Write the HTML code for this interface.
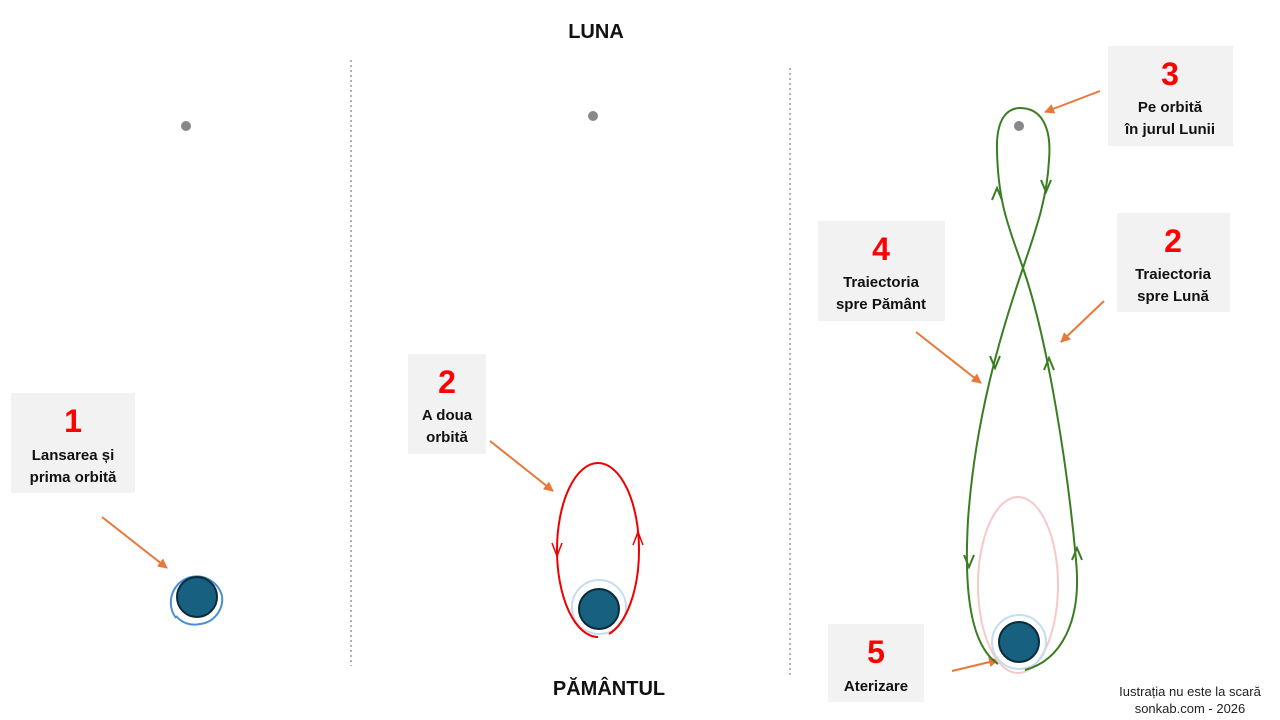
<!DOCTYPE html>
<html><head><meta charset="utf-8"><style>
html,body{margin:0;padding:0;background:#fff;}
svg{display:block;font-family:"Liberation Sans",sans-serif;}
.n{fill:#f00;font-weight:bold;font-size:32px;text-anchor:middle;}
.t{fill:#111;font-weight:bold;font-size:15px;text-anchor:middle;}
.b{fill:#f2f2f2;}
.or{stroke:#e8773a;stroke-width:2;fill:none;}
.g{stroke:#3a7d22;stroke-width:2;fill:none;}
</style></head><body>
<svg width="1280" height="720" viewBox="0 0 1280 720">
<defs>
<marker id="ao" viewBox="0 0 10 10" refX="9" refY="5" markerWidth="5" markerHeight="5" orient="auto"><path d="M0,0 L10,5 L0,10z" fill="#e8773a"/></marker>
</defs>
<text x="596" y="38" text-anchor="middle" font-weight="bold" font-size="20" fill="#111">LUNA</text>
<text x="609" y="695" text-anchor="middle" font-weight="bold" font-size="20" fill="#111">PĂMÂNTUL</text>
<line x1="351" y1="60" x2="351" y2="666" stroke="#999" stroke-width="1.5" stroke-dasharray="2,3"/>
<line x1="790" y1="68" x2="790" y2="675" stroke="#999" stroke-width="1.5" stroke-dasharray="2,3"/>
<circle cx="186" cy="126" r="5" fill="#888"/>
<circle cx="593" cy="116" r="5" fill="#888"/>
<circle cx="1019" cy="126" r="5" fill="#888"/>

<!-- panel1 -->
<rect class="b" x="11" y="393" width="124" height="100"/>
<text class="n" x="73" y="432">1</text>
<text class="t" x="73" y="460">Lansarea și</text>
<text class="t" x="73" y="482">prima orbită</text>
<line class="or" x1="102" y1="517" x2="167" y2="568" marker-end="url(#ao)"/>
<path d="M176,618 A26,26 0 1 1 222,596 A25,25 0 0 1 200,624 A24,24 0 0 1 176,616" fill="none" stroke="#4a8fd4" stroke-width="2"/>
<circle cx="197" cy="597" r="20" fill="#17607f" stroke="#0b2a3a" stroke-width="2"/>

<!-- panel2 -->
<rect class="b" x="408" y="354" width="78" height="100"/>
<text class="n" x="447" y="393">2</text>
<text class="t" x="447" y="420">A doua</text>
<text class="t" x="447" y="442">orbită</text>
<line class="or" x1="490" y1="441" x2="553" y2="491" marker-end="url(#ao)"/>
<circle cx="599" cy="607" r="27" fill="none" stroke="#c6dcef" stroke-width="2"/>
<path d="M598,637 A41,87 0 0 1 557,550 A41,87 0 0 1 639,550 A41,87 0 0 1 609,634" fill="none" stroke="#e00" stroke-width="2"/>
<path d="M552,543 L557,556 L562,543" fill="none" stroke="#e00" stroke-width="1.5"/>
<path d="M633,545 L638,532 L643,545" fill="none" stroke="#e00" stroke-width="1.5"/>
<circle cx="599" cy="609" r="20" fill="#17607f" stroke="#0b2a3a" stroke-width="2"/>

<!-- panel3 -->
<rect class="b" x="1108" y="46" width="125" height="100"/>
<text class="n" x="1170" y="85">3</text>
<text class="t" x="1170" y="112">Pe orbită</text>
<text class="t" x="1170" y="134">în jurul Lunii</text>
<line class="or" x1="1100" y1="91" x2="1045" y2="112" marker-end="url(#ao)"/>

<rect class="b" x="818" y="221" width="127" height="100"/>
<text class="n" x="881" y="260">4</text>
<text class="t" x="881" y="287">Traiectoria</text>
<text class="t" x="881" y="309">spre Pământ</text>
<line class="or" x1="916" y1="332" x2="981" y2="383" marker-end="url(#ao)"/>

<rect class="b" x="1117" y="213" width="113" height="99"/>
<text class="n" x="1173" y="252">2</text>
<text class="t" x="1173" y="279">Traiectoria</text>
<text class="t" x="1173" y="301">spre Lună</text>
<line class="or" x1="1104" y1="301" x2="1061" y2="342" marker-end="url(#ao)"/>

<rect class="b" x="828" y="624" width="96" height="78"/>
<text class="n" x="876" y="663">5</text>
<text class="t" x="876" y="691">Aterizare</text>
<line class="or" x1="952" y1="671" x2="998" y2="660" marker-end="url(#ao)"/>

<ellipse cx="1018" cy="585" rx="40" ry="88" fill="none" stroke="#f6c9c9" stroke-width="2"/>
<circle cx="1019" cy="642" r="27" fill="none" stroke="#c6dcef" stroke-width="2"/>
<path class="g" d="M1025,670 C1062,660 1082,620 1076,560 C1068,470 1048,340 1023,268 C1010,230 998,205 997,150 C996,118 1008,108 1020,108 C1040,108 1052,125 1049,160 C1047,200 1035,232 1023,268 C1000,335 975,420 968,520 C964,590 970,645 998,664"/>
<path class="g" stroke-width="1.5" d="M992,200 L997,188 L1002,200 M1041,180 L1046,192 L1051,180 M990,356 L995,368 L1000,356 M1044,370 L1049,358 L1054,370 M964,555 L969,567 L974,555 M1072,560 L1077,548 L1082,560"/>
<circle cx="1019" cy="642" r="20" fill="#17607f" stroke="#0b2a3a" stroke-width="2"/>

<text x="1190" y="696" text-anchor="middle" font-size="13" fill="#222">Iustrația nu este la scară</text>
<text x="1190" y="713" text-anchor="middle" font-size="13" fill="#222">sonkab.com - 2026</text>
</svg>
</body></html>
